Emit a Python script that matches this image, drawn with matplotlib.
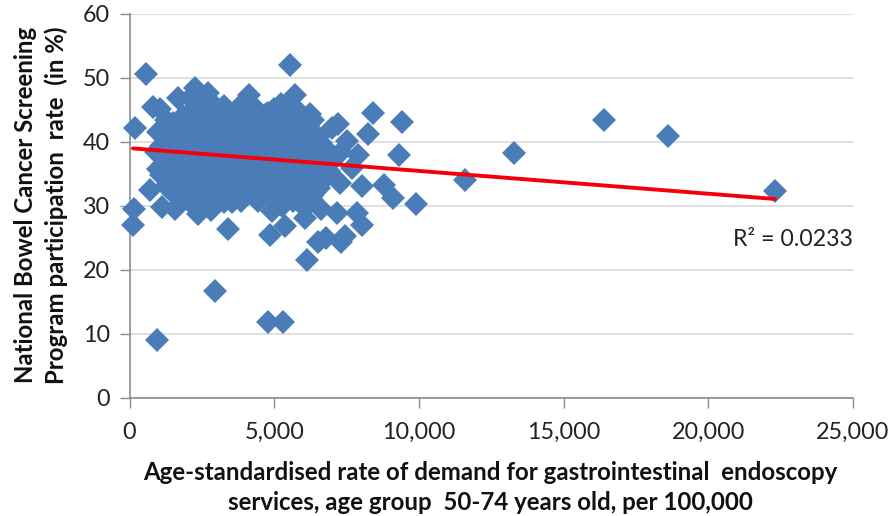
import matplotlib
matplotlib.use('Agg')
import matplotlib.pyplot as plt
from matplotlib.ticker import FuncFormatter

plt.rcParams['font.family'] = ['Lato', 'DejaVu Sans']

# scattered points around the main cloud
outer_x = [570, 190, 150, 130, 950, 2950, 4800, 5300, 5550, 16400, 18600, 22300, 13300, 11600,
           9900, 9400, 9300, 9100, 8800, 8420, 8250, 8020, 7850, 8020, 7900, 7210, 6985, 7500,
           7300, 7280, 7160, 7300, 7450, 6800, 6500, 6150, 6065, 5370, 4860, 3410, 4910, 5260,
           2380, 2800, 1140, 1570, 710, 3530, 800, 1050, 1680, 2270, 2700, 4130, 5720, 6240,
           7700, 7000, 6700, 6600, 6300, 5900]
outer_y = [50.7, 42.2, 29.6, 27.1, 9.0, 16.7, 11.8, 11.8, 52.0, 43.4, 40.9, 32.4, 38.3, 34.0,
           30.3, 43.2, 37.9, 31.2, 33.3, 44.5, 41.2, 27.0, 28.9, 33.2, 38.0, 42.8, 42.2, 40.2,
           38.5, 33.6, 28.9, 24.3, 25.3, 25.0, 24.3, 21.5, 28.1, 26.9, 25.5, 26.4, 29.2, 30.0,
           28.7, 29.3, 29.8, 29.6, 32.5, 30.6, 45.4, 45.2, 46.8, 48.4, 47.6, 47.3, 47.4, 44.3,
           36.0, 37.0, 34.0, 29.5, 31.0, 30.5]

# main cloud, read row by row
cloud_x = [1250, 1850, 2400, 3050, 3600, 4250, 4800, 5400, 6000,
           1000, 1550, 2150, 2750, 3300, 3950, 4500, 5100, 5700, 6350,
           1250, 1900, 2450, 3000, 3650, 4200, 4850, 5400, 6000, 6600,
           900, 1550, 2100, 2700, 3350, 3900, 4550, 5100, 5700, 6300, 6850,
           1150, 1800, 2400, 3050, 3600, 4250, 4800, 5450, 6000, 6600,
           1450, 2100, 2700, 3300, 3950, 4500, 5100, 5700, 6300, 6900,
           1250, 1850, 2450, 3050, 3650, 4200, 4850, 5400, 6000, 6550,
           1550, 2150, 2750, 3350, 3900, 4550, 5150, 5700, 6300,
           1900, 2500, 3100, 3650, 4250, 4800, 5450, 6000,
           2200, 3000, 3550, 4150, 4700, 5250, 5800, 6350,
           2000, 2600, 3900, 4500, 5100, 5600, 5950]
cloud_y = [43.5, 44.0, 45.8, 44.0, 44.6, 45.0, 43.8, 45.0, 43.0,
           41.6, 42.2, 42.4, 42.0, 42.6, 42.2, 42.4, 42.0, 42.3, 41.6,
           39.8, 40.2, 40.4, 40.0, 40.4, 40.2, 40.0, 40.4, 40.0, 39.8,
           38.4, 38.2, 38.4, 38.6, 38.2, 38.4, 38.2, 38.6, 38.2, 38.0, 38.6,
           36.6, 36.4, 36.8, 36.4, 36.6, 36.4, 36.8, 36.4, 36.6, 36.2,
           34.8, 35.0, 34.6, 34.8, 35.0, 34.6, 35.0, 34.8, 34.6, 35.4,
           33.2, 33.0, 33.2, 33.0, 33.4, 33.0, 33.2, 33.4, 33.0, 32.8,
           31.8, 31.4, 31.6, 31.2, 31.8, 31.4, 31.6, 31.2, 31.6,
           34.0, 34.2, 37.8, 41.0, 43.2, 41.2, 41.0, 39.2,
           45.0, 45.4, 43.4, 46.0, 44.4, 46.0, 45.0, 43.4,
           36.0, 39.4, 39.6, 36.2, 33.8, 43.6, 36.6]

# points in the gaps of the cloud
fill_x = [1500, 2100, 2700, 3300, 3900, 4500, 5100, 5700, 6200,
          1250, 1800, 2400, 3000, 3600, 4200, 4800, 5400, 6000, 6500,
          1100, 1700, 2300, 2900, 3500, 4100, 4700, 5300, 5900, 6500,
          1300, 1900, 2500, 3100, 3700, 4300, 4900, 5500, 6100, 6700,
          1000, 1600, 2200, 2800, 3400, 4000, 4600, 5200, 5800, 6400,
          1300, 1900, 2500, 3100, 3700, 4300, 4900, 5500, 6100, 6700,
          1100, 1700, 2300, 2900, 3500, 4100, 4700, 5300, 5900, 6400,
          1450, 2050, 2650, 3250, 3850, 4450, 5050, 5650, 6250,
          1800, 2400, 3000, 3600, 4200, 4800, 5400, 6000, 6550,
          2100, 2650, 3250, 3800, 4400, 5000, 5600,
          2350, 2950, 3500, 4050, 4650, 5250, 5850]
fill_y = [43.0, 43.2, 43.4, 43.6, 43.4, 43.2, 43.4, 43.6, 42.8,
          41.0, 41.2, 41.2, 41.0, 41.4, 41.2, 41.0, 41.4, 41.2, 40.8,
          39.4, 39.2, 39.2, 39.4, 39.2, 39.4, 39.2, 39.4, 39.2, 39.0,
          37.6, 37.6, 37.6, 37.4, 37.6, 37.4, 37.6, 37.6, 37.4, 37.4,
          35.8, 35.8, 35.8, 35.6, 35.8, 35.6, 35.8, 35.8, 35.6, 35.8,
          34.0, 34.0, 34.2, 34.0, 34.2, 34.0, 34.0, 34.0, 34.2, 34.0,
          34.8, 32.4, 32.4, 32.2, 32.4, 32.2, 32.4, 32.2, 32.4, 32.2,
          36.8, 30.8, 30.8, 30.6, 30.8, 30.8, 30.6, 30.8, 30.6,
          42.6, 44.4, 42.8, 42.8, 44.6, 44.6, 43.4, 41.8, 36.8,
          46.8, 46.2, 45.6, 45.4, 45.0, 45.2, 44.6,
          38.8, 36.0, 37.0, 37.2, 39.8, 38.0, 33.6]

# trend line end points
fit_x = [120, 22300]
fit_y = [39.0, 31.1]

fig = plt.figure(figsize=(8.89, 5.16), dpi=100)
ax = fig.add_axes([129.5 / 889, 1 - 398 / 516, 723.5 / 889, 384 / 516])

ax.plot(outer_x + cloud_x + fill_x, outer_y + cloud_y + fill_y, linestyle='none', marker='D', markersize=11.8,
        color='#4a7db8', markeredgewidth=0, clip_on=False, zorder=3)
ax.plot(fit_x, fit_y, color='#f5000a', linewidth=2.8, solid_capstyle='round', zorder=4)

ax.set_xlim(0, 25000)
ax.set_ylim(0, 60)
ax.set_xticks([0, 5000, 10000, 15000, 20000, 25000])
ax.set_yticks([0, 10, 20, 30, 40, 50, 60])
ax.xaxis.set_major_formatter(FuncFormatter(lambda v, p: f'{int(v):,}'))

ax.grid(axis='y', color='#dcdcdc', linewidth=1.3)
ax.set_axisbelow(True)
for side in ['top', 'right']:
    ax.spines[side].set_visible(False)
for side in ['left', 'bottom']:
    ax.spines[side].set_color('#8c8c8c')
    ax.spines[side].set_linewidth(1.2)
ax.tick_params(axis='x', direction='out', length=7, width=1, color='#8c8c8c', labelsize=16.8, pad=10, labelcolor='#222222')
ax.tick_params(axis='y', direction='out', length=7, width=1, color='#8c8c8c', labelsize=16.8, pad=7, labelcolor='#222222')

ax.text(20850, 24.7, 'R² = 0.0233', fontsize=16.7, color='#222222', va='center', ha='left')

fig.text(490 / 889, 1 - 472 / 516, 'Age-standardised rate of demand for gastrointestinal  endoscopy', fontsize=17.3,
         fontweight='bold', color='#111111', ha='center', va='center')
fig.text(490 / 889, 1 - 503 / 516, 'services, age group  50-74 years old, per 100,000', fontsize=17.3,
         fontweight='bold', color='#111111', ha='center', va='center')
fig.text(26 / 889, 1 - 205 / 516, 'National Bowel Cancer Screening', fontsize=17.3, fontweight='bold',
         color='#111111', rotation=90, ha='center', va='center')
fig.text(56 / 889, 1 - 205 / 516, 'Program participation  rate  (in %)', fontsize=17.3, fontweight='bold',
         color='#111111', rotation=90, ha='center', va='center')

fig.savefig('out.png', dpi=100)
